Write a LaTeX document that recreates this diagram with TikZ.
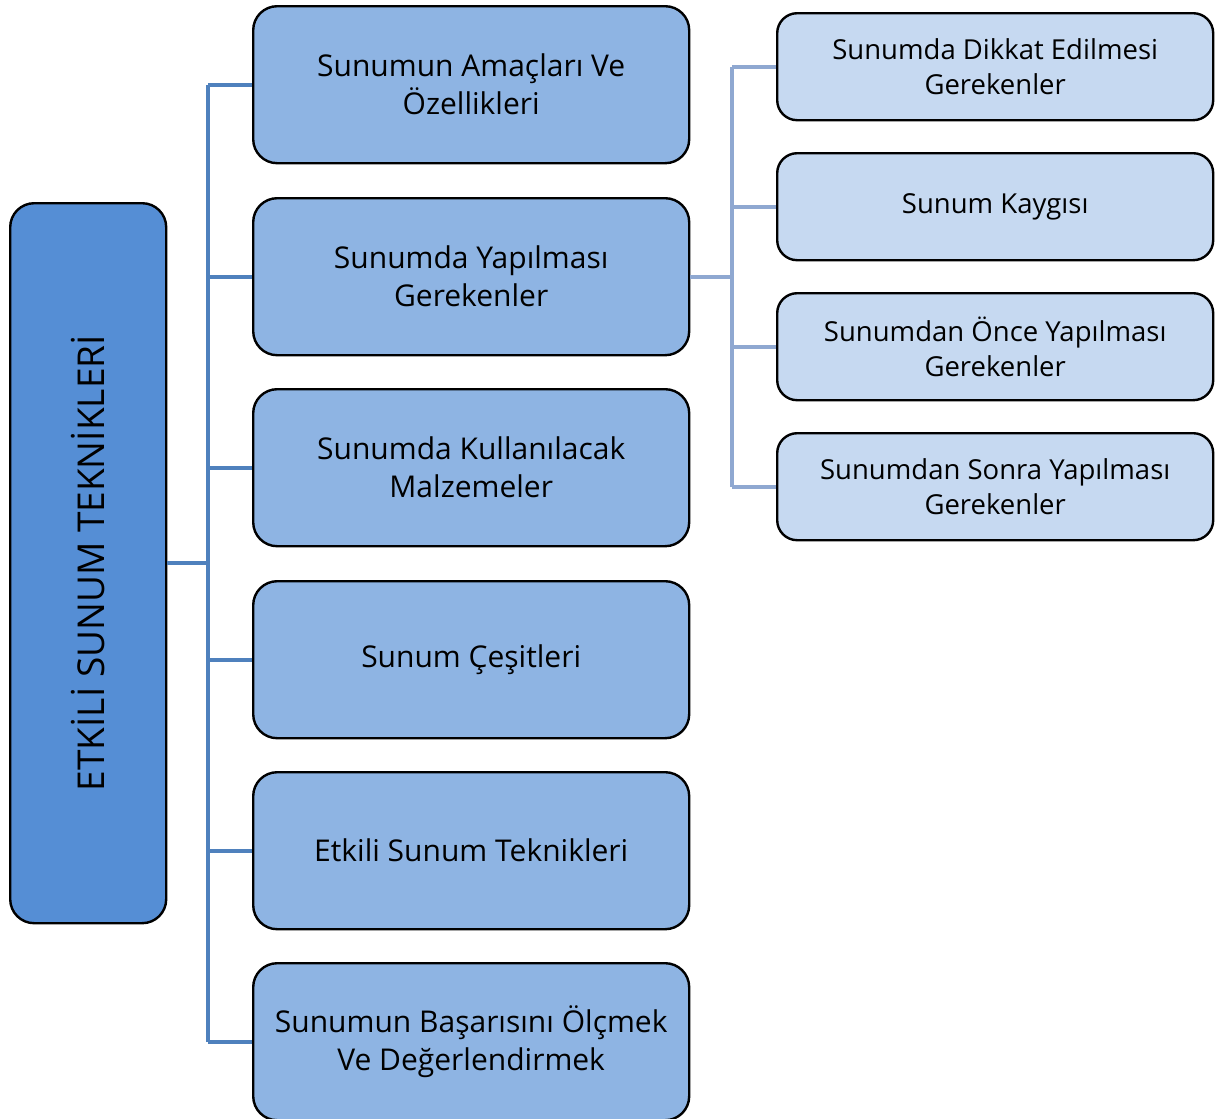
\documentclass[tikz,border=0pt]{standalone}
\usepackage{fontspec}
\setmainfont{Open Sans}
\definecolor{rootfill}{RGB}{85,142,213}
\definecolor{midfill}{RGB}{142,180,227}
\definecolor{leaffill}{RGB}{198,217,241}
\definecolor{trunk}{RGB}{79,129,189}
\definecolor{twig}{RGB}{143,168,209}
\begin{document}
\begin{tikzpicture}[x=1pt,y=-1pt,
  box/.style={draw=black,line width=2.4pt,rounded corners=24pt,align=center,
    inner sep=0pt,anchor=north west},
  rootbox/.style={box,fill=rootfill,minimum width=156pt,minimum height=720pt},
  midbox/.style={box,fill=midfill,minimum width=436pt,minimum height=157pt,
    font=\fontsize{30}{38}\selectfont},
  leafbox/.style={box,rounded corners=20pt,fill=leaffill,minimum width=436pt,
    minimum height=107pt,font=\fontsize{27.5}{35}\selectfont},
  trunkline/.style={draw=trunk,line width=4pt},
  twigline/.style={draw=twig,line width=4pt}]
\useasboundingbox (0,0) rectangle (1216,1119);

% root
\node[rootbox] (root) at (9,202) {};
\node[rotate=90,font=\fontsize{37}{44}\selectfont] (roottxt) at (root.center) {ETKİLİ SUNUM TEKNİKLERİ};

% first level
\node[midbox] (m1) at (252,5)   {Sunumun Amaçları Ve\\Özellikleri};
\node[midbox] (m2) at (252,197) {Sunumda Yapılması\\Gerekenler};
\node[midbox] (m3) at (252,388) {Sunumda Kullanılacak\\Malzemeler};
\node[midbox] (m4) at (252,580) {Sunum Çeşitleri};
\node[midbox] (m5) at (252,771) {Etkili Sunum Teknikleri};
\node[midbox] (m6) at (252,962) {Sunumun Başarısını Ölçmek\\Ve Değerlendirmek};

% second level
\node[leafbox] (l1) at (776,12)  {Sunumda Dikkat Edilmesi\\Gerekenler};
\node[leafbox] (l2) at (776,152) {Sunum Kaygısı};
\node[leafbox] (l3) at (776,292) {Sunumdan Önce Yapılması\\Gerekenler};
\node[leafbox] (l4) at (776,432) {Sunumdan Sonra Yapılması\\Gerekenler};

% trunk connectors
\coordinate (tj) at (208,0);
\draw[trunkline] (root.east) -- (root.east -| tj);
\draw[trunkline] (m1.west -| tj) -- (m6.west -| tj);
\foreach \n in {m1,m2,m3,m4,m5,m6}
  \draw[trunkline] (\n.west -| tj) -- (\n.west);

% twig connectors
\coordinate (bj) at (732,0);
\draw[twigline] (m2.east) -- (m2.east -| bj);
\draw[twigline] (l1.west -| bj) -- (l4.west -| bj);
\foreach \n in {l1,l2,l3,l4}
  \draw[twigline] (\n.west -| bj) -- (\n.west);
\end{tikzpicture}
\end{document}
